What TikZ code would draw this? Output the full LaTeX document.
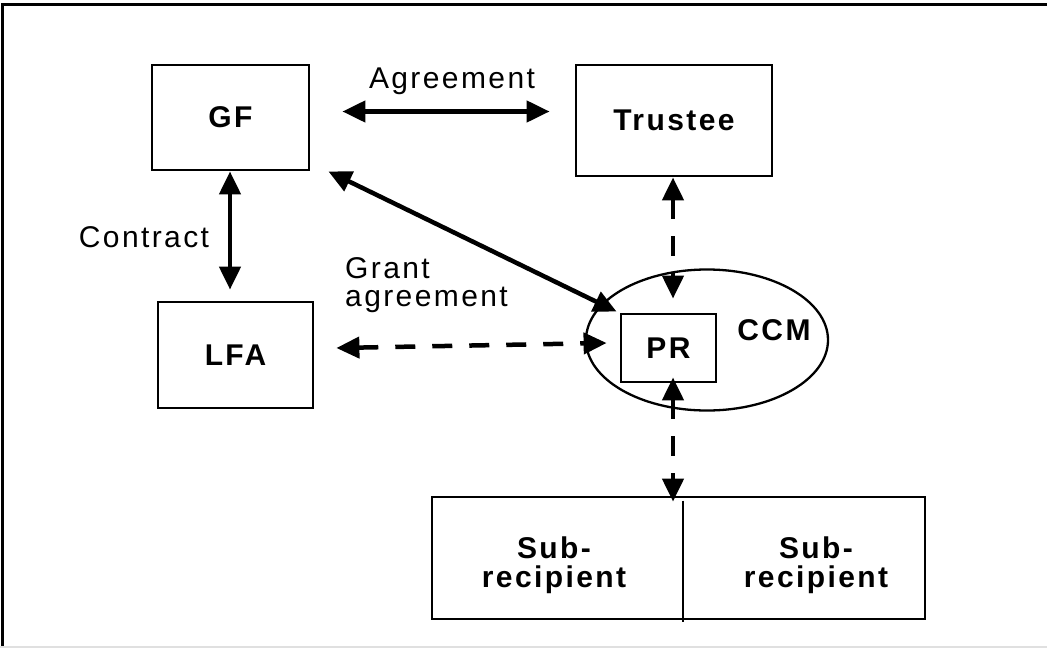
\documentclass[tikz,border=0pt]{standalone}
\usepackage{fontspec}
\setmainfont{Liberation Sans}[LetterSpace=8]
\usetikzlibrary{arrows.meta,shapes.geometric,calc}
\begin{document}
\begin{tikzpicture}[x=1pt,y=-1pt,
  box/.style={draw,line width=2.8pt,rectangle,inner sep=0pt,font=\fontsize{30}{30}\selectfont\bfseries},
  lbl/.style={inner sep=0pt,font=\fontsize{30}{28}\selectfont},
  blbl/.style={inner sep=0pt,font=\fontsize{30}{29.5}\selectfont\bfseries,align=center},
  conn/.style={line width=4.5pt,{Triangle[length=23pt,width=21pt]}-{Triangle[length=23pt,width=21pt]}},
  dconn/.style={conn,dash pattern=on 20pt off 17pt}]
\useasboundingbox (0,0) rectangle (1047,648);
% frame
\draw[line width=3.5pt] (1047,4.5) -- (2.5,4.5) -- (2.5,646);
\draw[line width=1.5pt,black!12] (0,647) -- (1047,647);
% boxes
\node[box,minimum width=157pt,minimum height=105pt] (gf) at (230.5,117.5) {GF};
\node[box,minimum width=196pt,minimum height=111pt] (tr) at (674,120.5) {Trustee};
\node[box,minimum width=155pt,minimum height=106pt] (lfa) at (235.5,355) {LFA};
\node[draw,ellipse,line width=2.3pt,minimum width=242pt,minimum height=141pt,inner sep=0pt] (ccm) at (707,340) {};
\node[box,minimum width=95pt,minimum height=68pt] (pr) at (668.5,348) {PR};
\node[box,minimum width=493pt,minimum height=122pt] (sub) at (678.5,558) {};
\draw[line width=2.8pt] ([xshift=4.5pt,yshift=-5pt]sub.north) -- ([xshift=4.5pt,yshift=-2pt]sub.south);
\node[blbl] (subl) at (554,565) {Sub-\\recipient};
\node[blbl] (subr) at (816,565) {Sub-\\recipient};
% labels
\node[lbl,anchor=base] (agr) at (452,88) {Agreement};
\node[lbl,anchor=base] (con) at (144,247) {Contract};
\node[lbl,anchor=west,align=left] (ga) at (345,285) {Grant\\agreement};
\node[blbl,anchor=base] (ccml) at (774,340) {CCM};
% connectors
\draw[conn] ([xshift=32pt,yshift=6pt]gf.east) -- ([xshift=-25pt,yshift=9pt]tr.west);
\draw[conn] ([xshift=-0.5pt]gf.south) -- ([xshift=-5.5pt,yshift=11pt]lfa.north);
\draw[conn] ([xshift=18pt]gf.south east) -- ([xshift=-3pt,yshift=1pt]pr.north west);
\draw[dconn] ([xshift=-1pt]tr.south) -- ([xshift=4.5pt,yshift=14pt]pr.north);
\draw[dconn] ([xshift=22pt,yshift=7pt]lfa.east) -- ([xshift=-13pt,yshift=5pt]pr.west);
\draw[dconn] ([xshift=4.5pt,yshift=6pt]pr.south) -- ([xshift=-5.5pt,yshift=-6pt]sub.north);
\end{tikzpicture}
\end{document}
